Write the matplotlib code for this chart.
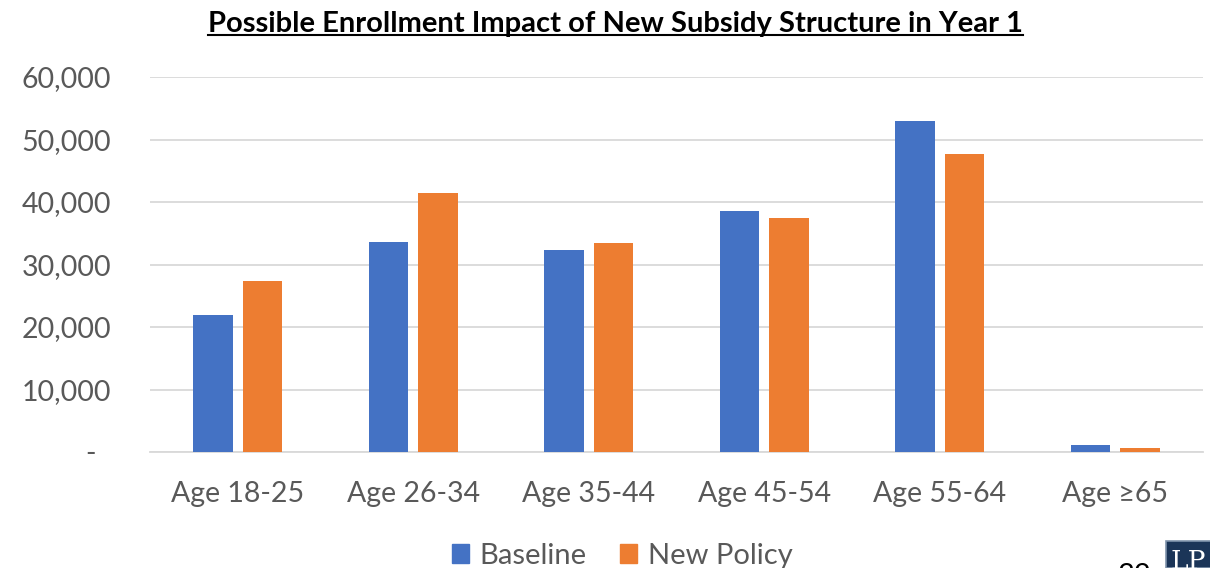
import matplotlib
matplotlib.use("Agg")
import matplotlib.pyplot as plt
import numpy as np
from matplotlib.patches import Patch, Rectangle
from matplotlib.ticker import FuncFormatter

categories = ["Age 18-25", "Age 26-34", "Age 35-44", "Age 45-54", "Age 55-64", "Age \u226565"]
baseline = [21900, 33600, 32400, 38600, 52900, 1100]
new_policy = [27300, 41500, 33400, 37400, 47700, 700]
series_names = ["Baseline", "New Policy"]
yticks = [0, 10000, 20000, 30000, 40000, 50000, 60000]
title = "Possible Enrollment Impact of New Subsidy Structure in Year 1"

BLUE = "#4472C4"
ORANGE = "#ED7D31"
GRAY = "#595959"
GRID = "#D9D9D9"

plt.rcParams['font.family'] = ['Lato', 'DejaVu Sans']

W, H = 1210, 568
fig = plt.figure(figsize=(W / 100, H / 100), dpi=100)
fig.patch.set_facecolor("white")

ax = fig.add_axes([150 / W, (H - 452) / H, 1053 / W, 375 / H])
x = np.arange(len(categories))
bw = 0.226
off = 0.141
ax.bar(x - off, baseline, bw, color=BLUE, zorder=3)
ax.bar(x + off, new_policy, bw, color=ORANGE, zorder=3)

ax.set_xlim(-0.5, len(categories) - 0.5)
ax.set_ylim(0, 60000)
ax.set_yticks(yticks)
ax.yaxis.set_major_formatter(FuncFormatter(lambda v, p: "-  " if v == 0 else f"{int(v):,}"))
ax.set_xticks(x)
ax.set_xticklabels(categories)
ax.tick_params(axis='both', length=0, labelsize=20.5, labelcolor=GRAY)
ax.tick_params(axis='y', pad=28)
ax.tick_params(axis='x', pad=21)
ax.grid(axis='y', color=GRID, linewidth=1.3, zorder=0)
ax.set_axisbelow(True)
for s in ["top", "right", "left"]:
    ax.spines[s].set_visible(False)
ax.spines["bottom"].set_color(GRID)
ax.spines["bottom"].set_linewidth(1.3)

# Title with underline
t = fig.text(615.5 / W, 1 - 32.3 / H, title, ha='center', va='baseline',
             fontsize=21, fontweight='bold', color='black')
fig.canvas.draw()
bb = t.get_window_extent()
fig.add_artist(plt.Line2D([bb.x0 / W, bb.x1 / W], [1 - 35 / H, 1 - 35 / H],
                          color='black', linewidth=1.5, transform=fig.transFigure))

# Legend
handles = [Patch(color=BLUE), Patch(color=ORANGE)]
fig.legend(handles, series_names, loc='upper center', bbox_to_anchor=(622 / W, 1 - 543 / H),
           ncol=2, frameon=False, fontsize=21, labelcolor=GRAY,
           handlelength=0.6, handleheight=0.6, handletextpad=0.35, columnspacing=1.15,
           borderpad=0, borderaxespad=0)

# Page number and logo (partially cut off)
fig.text(1118 / W, 1 - 584 / H, "32", fontsize=21, color='black', ha='left', va='baseline')
fig.add_artist(Rectangle((1166 / W, 0), 50 / W, 27 / H, transform=fig.transFigure,
                         facecolor="#1B3558", edgecolor="#7F93AC", linewidth=1.2))
fig.text(1171 / W, -6 / H, "LP", fontsize=19, color='white', family='DejaVu Serif',
         ha='left', va='bottom')

fig.savefig("out.png", dpi=100)
